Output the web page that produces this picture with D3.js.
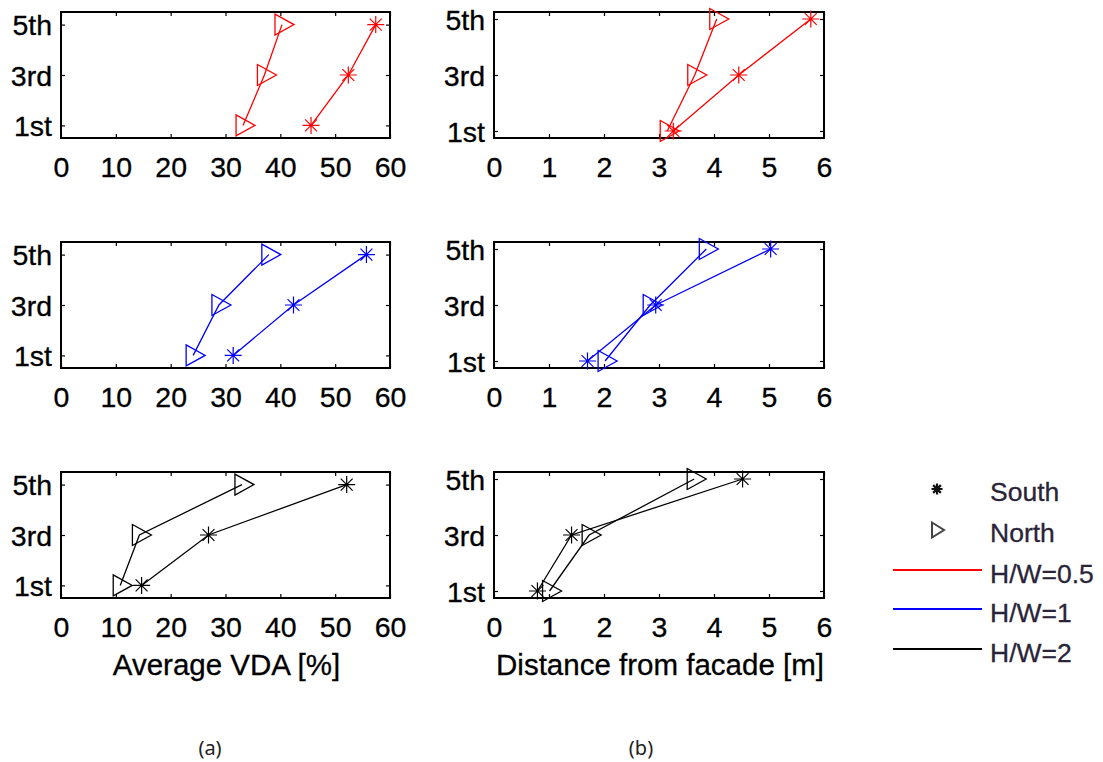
<!DOCTYPE html>
<html>
<head>
<meta charset="utf-8">
<script src="https://cdn.jsdelivr.net/npm/d3@7"></script>
<style>
  html, body { margin: 0; padding: 0; background: #fff; }
  svg { display: block; }
  text { font-family: "Liberation Sans", Arial, Helvetica, sans-serif; }
</style>
</head>
<body>
<svg id="chart" width="1103" height="762"></svg>
<script>
// ---------------- data ----------------
const floorLabels = ["1st", "3rd", "5th"];
const floorNums = [1, 3, 5];
const ratios = ["H/W=0.5", "H/W=1", "H/W=2"];
const ratioColors = ["#ff0000", "#0000ff", "#000000"];

// (a) Average VDA [%]
const vdaSouth05 = [45.6, 52.4, 57.4];
const vdaNorth05 = [33.2, 37.1, 40.3];
const vdaSouth1  = [31.4, 42.4, 55.7];
const vdaNorth1  = [24.1, 28.8, 37.9];
const vdaSouth2  = [14.7, 26.9, 52.1];
const vdaNorth2  = [10.8, 14.3, 33.0];

// (b) Distance from facade [m]
const distSouth05 = [3.26, 4.45, 5.76];
const distNorth05 = [3.15, 3.65, 4.05];
const distSouth1  = [1.70, 2.94, 5.03];
const distNorth1  = [2.02, 2.84, 3.86];
const distSouth2  = [0.79, 1.41, 4.52];
const distNorth2  = [1.01, 1.73, 3.64];

const vdaTicks  = [0, 10, 20, 30, 40, 50, 60];
const distTicks = [0, 1, 2, 3, 4, 5, 6];

const legendMarkers = ["South", "North"];
const captions = ["(a)", "(b)"];
const xTitles = ["Average VDA [%]", "Distance from facade [m]"];

// ---------------- layout ----------------
const svg = d3.select("#chart");
const fontSize = 28.5;
const rowTops = [12, 242, 472];
const panelH = 126;
const cols = [
  { x0: 61, x1: 390, xDomain: [0, 60], ticks: vdaTicks, yDomain: [0.5, 5.5],
    south: [vdaSouth05, vdaSouth1, vdaSouth2], north: [vdaNorth05, vdaNorth1, vdaNorth2] },
  { x0: 494, x1: 824, xDomain: [0, 6], ticks: distTicks, yDomain: [0.75, 5.25],
    south: [distSouth05, distSouth1, distSouth2], north: [distNorth05, distNorth1, distNorth2] }
];

function starPath(r) {
  const d = r * 0.7;
  return `M${-r},0L${r},0M0,${-r}L0,${r}M${-d},${-d}L${d},${d}M${-d},${d}L${d},${-d}`;
}
const triPath = "M-7,-10.5L12,0L-7,10.5Z";

cols.forEach((col, ci) => {
  const x = d3.scaleLinear().domain(col.xDomain).range([col.x0, col.x1]);
  rowTops.forEach((top, ri) => {
    const y = d3.scaleLinear().domain(col.yDomain).range([top + panelH, top]);
    const g = svg.append("g");
    const color = ratioColors[ri];

    const bottom = g.append("g").attr("transform", `translate(0,${top + panelH})`)
      .call(d3.axisBottom(x).tickValues(col.ticks).tickSizeInner(-4).tickSizeOuter(0).tickPadding(19).tickFormat(d3.format("d")));
    const topAx = g.append("g").attr("transform", `translate(0,${top})`)
      .call(d3.axisTop(x).tickValues(col.ticks).tickSizeInner(-4).tickSizeOuter(0).tickFormat(""));
    const left = g.append("g").attr("transform", `translate(${col.x0},0)`)
      .call(d3.axisLeft(y).tickValues(floorNums).tickSizeInner(-4).tickSizeOuter(0).tickPadding(9)
        .tickFormat((d, i) => floorLabels[i]));
    const right = g.append("g").attr("transform", `translate(${col.x1},0)`)
      .call(d3.axisRight(y).tickValues(floorNums).tickSizeInner(-4).tickSizeOuter(0).tickFormat(""));
    [bottom, topAx, left, right].forEach(a => {
      a.select(".domain").remove();
      a.selectAll(".tick line").attr("stroke", "#000").attr("stroke-width", 1.2);
      a.selectAll("text").attr("font-size", fontSize).attr("fill", "#000")
        .attr("stroke", "#000").attr("stroke-width", 0.3)
        .style("font-family", '"Liberation Sans", Arial, sans-serif');
    });
    left.selectAll("text").attr("dy", "0.36em");

    g.append("rect").attr("x", col.x0).attr("y", top)
      .attr("width", col.x1 - col.x0).attr("height", panelH)
      .attr("fill", "none").attr("stroke", "#000").attr("stroke-width", 2);

    const line = d3.line().x(d => x(d[0])).y(d => y(d[1]));
    const southPts = col.south[ri].map((v, i) => [v, floorNums[i]]);
    const northPts = col.north[ri].map((v, i) => [v, floorNums[i]]);

    [southPts, northPts].forEach(pts => {
      g.append("path").attr("d", line(pts)).attr("fill", "none")
        .attr("stroke", color).attr("stroke-width", 1.3);
    });
    g.selectAll(".star").data(southPts).enter().append("path")
      .attr("transform", d => `translate(${x(d[0])},${y(d[1])})`)
      .attr("d", starPath(8.5)).attr("fill", "none").attr("stroke", color).attr("stroke-width", 1.2);
    g.selectAll(".tri").data(northPts).enter().append("path")
      .attr("transform", d => `translate(${x(d[0])},${y(d[1])})`)
      .attr("d", triPath).attr("fill", "none").attr("stroke", color).attr("stroke-width", 1.3);
  });

  svg.append("text").attr("x", (col.x0 + col.x1) / 2 + 1).attr("y", 675)
    .attr("text-anchor", "middle").attr("font-size", 29.5).attr("fill", "#000")
    .attr("stroke", "#000").attr("stroke-width", 0.3)
    .text(xTitles[ci]);
});

// captions
[210, 641].forEach((cx, i) => {
  svg.append("text").attr("x", cx).attr("y", 755).attr("text-anchor", "middle")
    .attr("font-size", 20).attr("fill", "#222")
    .style("font-family", '"Noto Sans", "Open Sans", sans-serif')
    .text(captions[i]);
});

// legend
const lg = svg.append("g");
const legTextX = 990;
const legRows = [489, 530, 570, 609, 649];
lg.append("path").attr("transform", `translate(937,${legRows[0]})`)
  .attr("d", starPath(5.5)).attr("fill", "none").attr("stroke", "#111").attr("stroke-width", 2.2);
lg.append("path").attr("transform", `translate(937,${legRows[1]})`)
  .attr("d", "M-5,-7.5L7,0L-5,7.5Z").attr("fill", "none").attr("stroke", "#444").attr("stroke-width", 2);
legendMarkers.forEach((t, i) => {
  lg.append("text").attr("x", legTextX).attr("y", legRows[i] + 2).attr("dy", "0.36em")
    .attr("font-size", 26.5).attr("fill", "#2a2438").attr("stroke", "#2a2438").attr("stroke-width", 0.3).text(t);
});
ratios.forEach((t, i) => {
  lg.append("line").attr("x1", 893).attr("x2", 982)
    .attr("y1", legRows[i + 2]).attr("y2", legRows[i + 2])
    .attr("stroke", ratioColors[i]).attr("stroke-width", 2.2);
  lg.append("text").attr("x", legTextX).attr("y", legRows[i + 2] + 3).attr("dy", "0.36em")
    .attr("font-size", 26.5).attr("fill", "#2a2438").attr("stroke", "#2a2438").attr("stroke-width", 0.3).text(t);
});
</script>
</body>
</html>
